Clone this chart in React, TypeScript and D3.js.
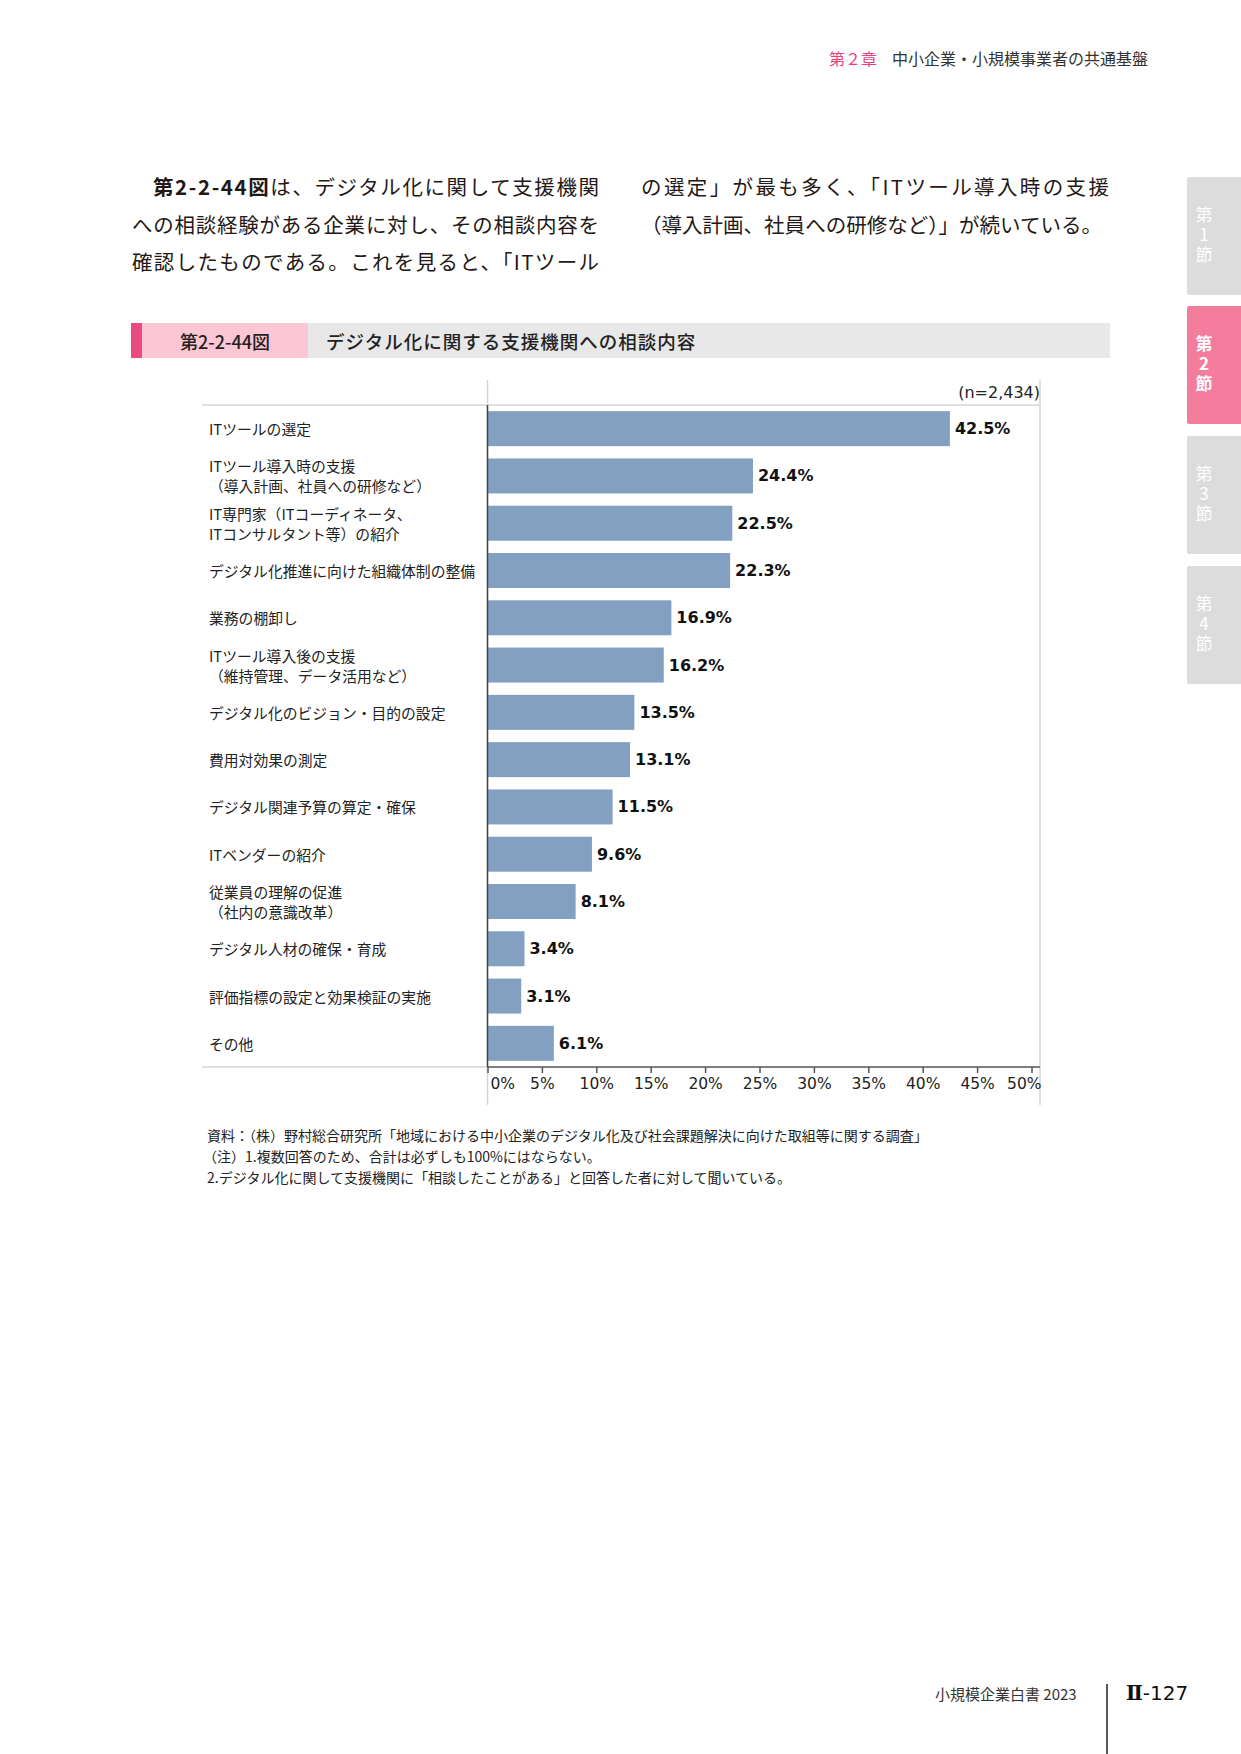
import React, { useEffect, useRef } from "react";
import * as d3 from "d3";

// chart data
const categories: string[] = [
  "ITツールの選定",
  "ITツール導入時の支援\n（導入計画、社員への研修など）",
  "IT専門家（ITコーディネータ、\nITコンサルタント等）の紹介",
  "デジタル化推進に向けた組織体制の整備",
  "業務の棚卸し",
  "ITツール導入後の支援\n（維持管理、データ活用など）",
  "デジタル化のビジョン・目的の設定",
  "費用対効果の測定",
  "デジタル関連予算の算定・確保",
  "ITベンダーの紹介",
  "従業員の理解の促進\n（社内の意識改革）",
  "デジタル人材の確保・育成",
  "評価指標の設定と効果検証の実施",
  "その他",
];
const values: number[] = [42.5, 24.4, 22.5, 22.3, 16.9, 16.2, 13.5, 13.1, 11.5, 9.6, 8.1, 3.4, 3.1, 6.1];
const tickValues: number[] = [0, 5, 10, 15, 20, 25, 30, 35, 40, 45, 50];
const sampleLabel = "(n=2,434)";

const notes: string[] = [
  "資料：（株）野村総合研究所「地域における中小企業のデジタル化及び社会課題解決に向けた取組等に関する調査」",
  "（注）1.複数回答のため、合計は必ずしも100%にはならない。",
  "2.デジタル化に関して支援機関に「相談したことがある」と回答した者に対して聞いている。",
];

const W = 1241;
const H = 1754;
const JP = "'Noto Sans CJK JP', sans-serif";
const LATIN = "'DejaVu Sans', Verdana, sans-serif";

function App() {
  const ref = useRef<SVGSVGElement>(null);

  useEffect(() => {
    const svg = d3.select(ref.current);
    svg.selectAll("*").remove();

    svg.append("rect").attr("width", W).attr("height", H).attr("fill", "#fff");

    // running header
    const head = svg.append("text").attr("y", 58).attr("dominant-baseline", "central")
      .attr("font-family", JP).attr("font-size", 16);
    head.append("tspan").attr("x", 829).attr("fill", "#e8437c").text("第２章");
    head.append("tspan").attr("x", 892).attr("fill", "#333").text("中小企業・小規模事業者の共通基盤");

    // body text, two columns
    const bodyLines = [
      { x: 153, y: 186, w: 446, parts: [["第2-2-44図", 700], ["は、デジタル化に関して支援機関", 400]] },
      { x: 132, y: 224, w: 467, parts: [["への相談経験がある企業に対し、その相談内容を", 400]] },
      { x: 132, y: 261, w: 467, parts: [["確認したものである。これを見ると、「ITツール", 400]] },
      { x: 641, y: 186, w: 468, parts: [["の選定」が最も多く、「ITツール導入時の支援", 400]] },
      { x: 641, y: 224, w: 461, parts: [["（導入計画、社員への研修など）」が続いている。", 400]] },
    ];
    bodyLines.forEach((l) => {
      const t = svg.append("text").attr("x", l.x).attr("y", l.y)
        .attr("dominant-baseline", "central").attr("font-family", JP)
        .attr("font-size", 20.5).attr("fill", "#231815")
        .attr("textLength", l.w).attr("lengthAdjust", "spacing");
      l.parts.forEach(([s, fw]) => t.append("tspan").attr("font-weight", fw as number).text(s as string));
    });

    // figure title bar
    svg.append("rect").attr("x", 142).attr("y", 323).attr("width", 968).attr("height", 35).attr("fill", "#e8e8e8");
    svg.append("rect").attr("x", 142).attr("y", 323).attr("width", 166).attr("height", 35).attr("fill", "#fcc6d4");
    svg.append("rect").attr("x", 131).attr("y", 323).attr("width", 11).attr("height", 35).attr("fill", "#ea4a80");
    svg.append("text").attr("x", 225).attr("y", 341).attr("text-anchor", "middle")
      .attr("dominant-baseline", "central").attr("font-family", JP).attr("font-size", 18)
      .attr("font-weight", 500).attr("fill", "#222").text("第2-2-44図");
    svg.append("text").attr("x", 326).attr("y", 341)
      .attr("dominant-baseline", "central").attr("font-family", JP).attr("font-size", 18.5)
      .attr("font-weight", 500).attr("fill", "#222").attr("letter-spacing", 1)
      .text("デジタル化に関する支援機関への相談内容");

    // chart
    const plotTop = 405;
    const plotBottom = 1067;
    const frameLeft = 202;
    const frameRight = 1040;

    const x = d3.scaleLinear().domain([0, 50]).range([487.5, 1031.5]);
    const y = d3.scaleBand<number>().domain(d3.range(values.length))
      .range([plotTop, plotBottom]).paddingInner(0.26).paddingOuter(0.13);

    const grid = svg.append("g").attr("stroke", "#d6d6d6").attr("stroke-width", 1.5);
    grid.append("line").attr("x1", frameLeft).attr("x2", frameRight).attr("y1", plotTop).attr("y2", plotTop);
    grid.append("line").attr("x1", frameLeft).attr("x2", x(0)).attr("y1", plotBottom).attr("y2", plotBottom);
    grid.append("line").attr("x1", x(0)).attr("x2", x(0)).attr("y1", 380).attr("y2", 1105);
    grid.append("line").attr("x1", frameRight).attr("x2", frameRight).attr("y1", 380).attr("y2", 1105);

    svg.append("g").selectAll("rect").data(values).join("rect")
      .attr("x", x(0))
      .attr("y", (d, i) => y(i) as number)
      .attr("width", (d) => x(d) - x(0))
      .attr("height", y.bandwidth())
      .attr("fill", "#83a0c1");

    svg.append("g").selectAll("text").data(values).join("text")
      .attr("x", (d) => x(d) + 5)
      .attr("y", (d, i) => (y(i) as number) + y.bandwidth() / 2)
      .attr("dominant-baseline", "central")
      .attr("font-family", LATIN).attr("font-size", 16).attr("font-weight", "bold")
      .attr("fill", "#111")
      .text((d) => d.toFixed(1) + "%");

    // category labels
    const cat = svg.append("g").attr("font-family", JP).attr("font-size", 14.8).attr("fill", "#222");
    categories.forEach((c, i) => {
      const lines = c.split("\n");
      const cy = (y(i) as number) + y.bandwidth() / 2;
      lines.forEach((ln, j) => {
        cat.append("text").attr("x", 209)
          .attr("y", cy + (j - (lines.length - 1) / 2) * 20)
          .attr("dominant-baseline", "central").text(ln);
      });
    });

    // axes
    svg.append("line").attr("x1", x(0)).attr("x2", x(0)).attr("y1", plotTop).attr("y2", plotBottom)
      .attr("stroke", "#444").attr("stroke-width", 1.5);

    const axis = svg.append("g").attr("transform", `translate(0,${plotBottom})`)
      .call(d3.axisBottom(x).tickValues(tickValues).tickSize(6).tickFormat((d) => `${d}%`));
    axis.select(".domain").remove();
    axis.append("line").attr("x1", x(0)).attr("x2", frameRight).attr("stroke", "#555").attr("stroke-width", 1.5);
    axis.selectAll(".tick line").attr("stroke", "#555").attr("stroke-width", 1.5);
    axis.selectAll(".tick text")
      .attr("font-family", LATIN).attr("font-size", 15.5).attr("fill", "#222").attr("y", 11)
      .attr("text-anchor", (d: any) => (d === 0 ? "start" : d === 50 ? "end" : "middle"))
      .attr("dx", (d: any) => (d === 0 ? 2.5 : d === 50 ? 9.5 : 0));

    svg.append("text").attr("x", frameRight).attr("y", 392).attr("text-anchor", "end")
      .attr("dominant-baseline", "central").attr("font-family", LATIN).attr("font-size", 16)
      .attr("fill", "#222").text(sampleLabel);

    // notes
    notes.forEach((n, i) => {
      svg.append("text").attr("x", i === 1 ? 203 : 207).attr("y", [1135, 1156, 1177][i])
        .attr("dominant-baseline", "central").attr("font-family", JP).attr("font-size", 14)
        .attr("fill", "#222").text(n);
    });

    // side tabs, label written vertically
    const tabs = [
      { y: 177, label: "1", on: false },
      { y: 306, label: "2", on: true },
      { y: 436, label: "3", on: false },
      { y: 566, label: "4", on: false },
    ];
    tabs.forEach((t) => {
      svg.append("rect").attr("x", 1187).attr("y", t.y).attr("width", 60).attr("height", 118)
        .attr("rx", 2).attr("fill", t.on ? "#f47c9d" : "#dcdcdc");
      svg.append("text").attr("x", 1204).attr("y", t.y + 59)
        .attr("text-anchor", "middle")
        .style("writing-mode", "vertical-rl").style("text-orientation", "upright")
        .attr("letter-spacing", 3)
        .attr("font-family", JP).attr("font-size", 17).attr("font-weight", t.on ? 700 : 400)
        .attr("fill", "#fff").text("第" + t.label + "節");
    });

    // footer
    svg.append("text").attr("x", 935).attr("y", 1693).attr("dominant-baseline", "central")
      .attr("font-family", JP).attr("font-size", 15).attr("fill", "#333").text("小規模企業白書 2023");
    svg.append("line").attr("x1", 1107).attr("x2", 1107).attr("y1", 1684).attr("y2", H)
      .attr("stroke", "#222").attr("stroke-width", 1.5);
    const pg = svg.append("text").attr("x", 1126).attr("y", 1693).attr("dominant-baseline", "central")
      .attr("font-size", 20).attr("fill", "#111");
    pg.append("tspan").attr("font-family", "'DejaVu Serif', serif").attr("font-weight", 700).text("Ⅱ");
    pg.append("tspan").attr("font-family", "'DejaVu Sans', sans-serif").attr("font-weight", 500).text("-127");
  }, []);

  return (
    <svg ref={ref} width={W} height={H}
      style={{ position: "absolute", left: 0, top: 0, display: "block" }}></svg>
  );
}

export default App;
